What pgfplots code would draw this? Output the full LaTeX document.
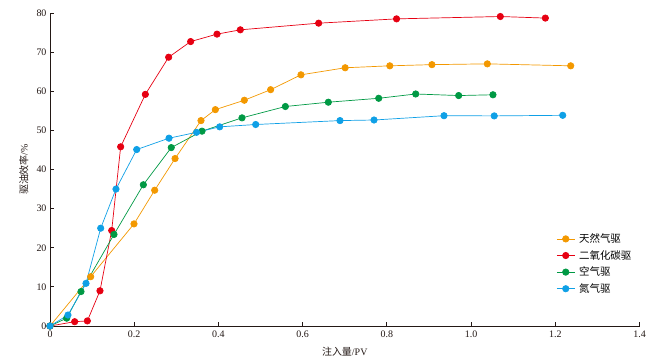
\documentclass[border=0pt]{standalone}
\usepackage{fontspec}
\setmainfont{Liberation Serif}
\newfontfamily\cjk{Noto Sans CJK SC}
\usepackage{pgfplots}
\pgfplotsset{compat=1.18}
\definecolor{cOr}{HTML}{F39800}
\definecolor{cRe}{HTML}{E60012}
\definecolor{cGr}{HTML}{009944}
\definecolor{cBl}{HTML}{0FA0E6}
\definecolor{axc}{HTML}{231815}
\begin{document}
\begin{tikzpicture}[x=1bp,y=1bp]
\begin{axis}[name=ax,
  scale only axis, width=589.5bp, height=313bp,
  xmin=0, xmax=1.4, ymin=0, ymax=80,
  axis x line*=bottom, axis y line*=left,
  axis line style={axc, line width=0.8pt},
  tick style={axc, line width=0.8pt},
  major tick length=4bp,
  tick align=inside,
  xtick={0,0.2,0.4,0.6,0.8,1.0,1.2,1.4},
  xticklabels={0,0.2,0.4,0.6,0.8,1.0,1.2,1.4},
  ytick={0,10,...,80},
  /pgf/number format/assume math mode=true,
  tick label style={font=\fontsize{10}{12}\selectfont, text=axc},
  xticklabel style={yshift=-1bp},
  xlabel={{\cjk 注入量}/PV},
  ylabel={{\cjk 驱油效率}/\%},
  label style={font=\fontsize{10}{12}\selectfont, text=axc},
  xlabel style={at={(axis description cs:0.5,0)}, anchor=north, yshift=-18bp},
  ylabel style={at={(axis description cs:0,0.5)}, anchor=south, xshift=0bp, yshift=18bp},
  every axis plot/.append style={line width=0.7pt, mark=*, mark size=3.2bp},
  legend style={draw=none, fill=none, at={(rel axis cs:0.857,0.305)}, anchor=north west,
    font=\fontsize{10.5}{12}\selectfont\cjk, row sep=2.3bp, inner sep=1bp,
    nodes={inner xsep=4bp}},
  legend cell align=left,
  legend image code/.code={\draw[#1, mark=none] (0bp,0bp) -- (18bp,0bp); \fill[#1] (9bp,0bp) circle (3.2bp);},
]
\addplot[cOr] coordinates {(0,0) (0.0966,12.6) (0.1995,26.1) (0.2486,34.7) (0.297,42.8) (0.3586,52.5) (0.3927,55.3) (0.4615,57.7) (0.524,60.4) (0.596,64.2) (0.701,66.0) (0.807,66.5) (0.907,66.8) (1.0386,67.0) (1.2366,66.5)};
\addlegendentry{天然气驱}
\addplot[cRe] coordinates {(0,0) (0.0586,1.1) (0.0887,1.3) (0.1187,9.0) (0.1465,24.4) (0.1678,45.8) (0.2264,59.2) (0.2818,68.7) (0.334,72.7) (0.3966,74.6) (0.452,75.7) (0.638,77.4) (0.823,78.5) (1.0695,79.1) (1.1764,78.7)};
\addlegendentry{二氧化碳驱}
\addplot[cGr] coordinates {(0,0) (0.0396,2.0) (0.0736,8.8) (0.152,23.4) (0.2217,36.1) (0.288,45.6) (0.361,49.8) (0.456,53.2) (0.559,56.1) (0.661,57.2) (0.7806,58.2) (0.8685,59.3) (0.9705,58.9) (1.052,59.1)};
\addlegendentry{空气驱}
\addplot[cBl] coordinates {(0,0) (0.0427,2.8) (0.0855,10.9) (0.1204,25.0) (0.1567,35.0) (0.2059,45.1) (0.2826,48.0) (0.348,49.5) (0.403,50.9) (0.4885,51.5) (0.6887,52.5) (0.7695,52.65) (0.9357,53.75) (1.055,53.7) (1.2176,53.85)};
\addlegendentry{氮气驱}
\end{axis}
\pgfresetboundingbox
\path[use as bounding box] ([xshift=-50bp,yshift=-37bp]ax.south west) rectangle ([xshift=22.5bp,yshift=13bp]ax.north east);
\end{tikzpicture}
\end{document}
